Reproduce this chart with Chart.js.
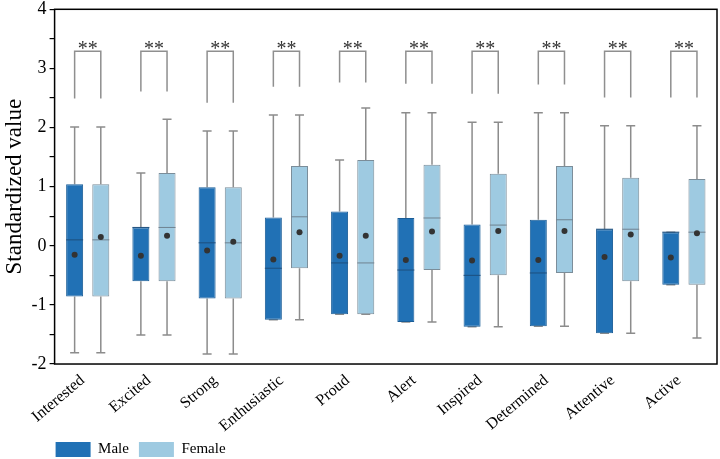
<!DOCTYPE html>
<html>
<head>
<meta charset="utf-8">
<script src="https://cdn.jsdelivr.net/npm/chart.js@4.4.1/dist/chart.umd.min.js"></script>
<style>
  html, body { margin: 0; padding: 0; background: #fff; }
  #wrap { width: 720px; height: 459px; }
</style>
</head>
<body>
<div id="wrap"><canvas id="boxChart"></canvas></div>
<script>
const categories = ["Interested", "Excited", "Strong", "Enthusiastic", "Proud", "Alert", "Inspired", "Determined", "Attentive", "Active"];

// male box stats
const maleMin    = [-1.81, -1.51, -1.83, -1.25, -1.16, -1.29, -1.37, -1.36, -1.48, -0.66];
const maleQ1     = [-0.86, -0.60, -0.89, -1.25, -1.16, -1.29, -1.37, -1.36, -1.48, -0.66];
const maleMedian = [0.10, 0.31, 0.05, -0.38, -0.29, -0.41, -0.50, -0.46, 0.28, 0.23];
const maleQ3     = [1.04, 0.31, 0.99, 0.48, 0.58, 0.47, 0.36, 0.44, 0.28, 0.23];
const maleMax    = [2.01, 1.23, 1.94, 2.21, 1.45, 2.25, 2.09, 2.25, 2.03, 0.23];
const maleMean   = [-0.15, -0.17, -0.08, -0.23, -0.17, -0.24, -0.25, -0.24, -0.19, -0.20];

// female box stats
const femaleMin    = [-1.81, -1.51, -1.83, -1.25, -1.16, -1.29, -1.37, -1.36, -1.48, -1.56];
const femaleQ1     = [-0.86, -0.60, -0.89, -0.38, -1.16, -0.41, -0.50, -0.46, -0.60, -0.66];
const femaleMedian = [0.10, 0.31, 0.05, 0.49, -0.29, 0.47, 0.35, 0.44, 0.28, 0.23];
const femaleQ3     = [1.04, 1.23, 0.99, 1.35, 1.45, 1.37, 1.22, 1.35, 1.15, 1.13];
const femaleMax    = [2.01, 2.14, 1.94, 2.21, 2.33, 2.25, 2.09, 2.25, 2.03, 2.03];
const femaleMean   = [0.15, 0.17, 0.07, 0.23, 0.17, 0.24, 0.25, 0.25, 0.19, 0.21];

// significance brackets
const bracketTop  = [3.29, 3.29, 3.29, 3.29, 3.29, 3.29, 3.29, 3.29, 3.29, 3.29];
const bracketFoot = [2.49, 2.61, 2.42, 2.69, 2.76, 2.74, 2.57, 2.73, 2.51, 2.51];
const sigMarks    = ["**", "**", "**", "**", "**", "**", "**", "**", "**", "**"];

const yTicks = [-2, -1, 0, 1, 2, 3, 4];

const SERIF = "'Liberation Serif', 'Times New Roman', serif";
const WHISKER = "#8c8c8c";

const boxStats = [
  { min: maleMin, med: maleMedian, max: maleMax, mean: maleMean, q1: maleQ1, q3: maleQ3, medColor: "#1d4f7e" },
  { min: femaleMin, med: femaleMedian, max: femaleMax, mean: femaleMean, q1: femaleQ1, q3: femaleQ3, medColor: "#6f8290" }
];

const boxExtras = {
  id: "boxExtras",
  beforeDatasetsDraw(chart) {
    const ctx = chart.ctx;
    const y = chart.scales.y;
    ctx.save();
    ctx.strokeStyle = WHISKER;
    ctx.lineWidth = 1.5;
    boxStats.forEach((s, d) => {
      chart.getDatasetMeta(d).data.forEach((bar, i) => {
        const x = bar.x;
        ctx.beginPath();
        ctx.moveTo(x, y.getPixelForValue(s.q3[i]));
        ctx.lineTo(x, y.getPixelForValue(s.max[i]));
        ctx.moveTo(x - 4.5, y.getPixelForValue(s.max[i]));
        ctx.lineTo(x + 4.5, y.getPixelForValue(s.max[i]));
        ctx.moveTo(x, y.getPixelForValue(s.q1[i]));
        ctx.lineTo(x, y.getPixelForValue(s.min[i]));
        ctx.moveTo(x - 4.5, y.getPixelForValue(s.min[i]));
        ctx.lineTo(x + 4.5, y.getPixelForValue(s.min[i]));
        ctx.stroke();
      });
    });
    ctx.restore();
  },
  afterDatasetsDraw(chart) {
    const ctx = chart.ctx;
    const y = chart.scales.y;
    const area = chart.chartArea;
    ctx.save();
    // medians + means
    boxStats.forEach((s, d) => {
      chart.getDatasetMeta(d).data.forEach((bar, i) => {
        const half = bar.width / 2;
        const ym = y.getPixelForValue(s.med[i]);
        ctx.strokeStyle = s.medColor;
        ctx.lineWidth = 1;
        ctx.beginPath();
        ctx.moveTo(bar.x - half, ym);
        ctx.lineTo(bar.x + half, ym);
        ctx.stroke();
        ctx.fillStyle = "#333333";
        ctx.beginPath();
        ctx.arc(bar.x, y.getPixelForValue(s.mean[i]), 3, 0, Math.PI * 2);
        ctx.fill();
      });
    });
    // brackets
    const maleBars = chart.getDatasetMeta(0).data;
    const femaleBars = chart.getDatasetMeta(1).data;
    ctx.strokeStyle = "#8f8f8f";
    ctx.lineWidth = 1.5;
    ctx.fillStyle = "#333333";
    ctx.font = "20px " + SERIF;
    ctx.textAlign = "center";
    ctx.textBaseline = "alphabetic";
    categories.forEach((c, i) => {
      const x1 = maleBars[i].x, x2 = femaleBars[i].x;
      const yt = y.getPixelForValue(bracketTop[i]);
      const yf = y.getPixelForValue(bracketFoot[i]);
      ctx.beginPath();
      ctx.moveTo(x1, yf);
      ctx.lineTo(x1, yt);
      ctx.lineTo(x2, yt);
      ctx.lineTo(x2, yf);
      ctx.stroke();
      ctx.fillText(sigMarks[i], (x1 + x2) / 2, yt + 4);
    });
    // frame
    ctx.strokeStyle = "#000";
    ctx.lineWidth = 1.5;
    ctx.strokeRect(area.left, area.top, area.right - area.left, area.bottom - area.top);
    ctx.restore();
  },
  afterLayout(chart) {
    // line the legend up under the plot like the original
    chart.legend.left = chart.chartArea.left - 9;
    chart.legend.top -= 11;
  }
};

new Chart(document.getElementById("boxChart"), {
  type: "bar",
  data: {
    labels: categories,
    datasets: [
      {
        label: "Male",
        data: categories.map((c, i) => [maleQ1[i], maleQ3[i]]),
        backgroundColor: "#2171b5",
        borderColor: "#1a5d97",
        borderWidth: 1,
        borderSkipped: false
      },
      {
        label: "Female",
        data: categories.map((c, i) => [femaleQ1[i], femaleQ3[i]]),
        backgroundColor: "#9ecae1",
        borderColor: "#7b8d99",
        borderWidth: 1,
        borderSkipped: false
      }
    ]
  },
  options: {
    responsive: true,
    maintainAspectRatio: false,
    animation: false,
    layout: { padding: { top: 0, right: 3, left: 1, bottom: -19 } },
    datasets: {
      bar: { categoryPercentage: 0.79, barPercentage: 0.65 }
    },
    scales: {
      x: {
        grid: { display: false, drawTicks: false },
        border: { display: false },
        ticks: {
          color: "#000",
          font: { family: SERIF, size: 16 },
          minRotation: 40,
          maxRotation: 40,
          padding: 7,
          labelOffset: -5
        }
      },
      y: {
        min: -2,
        max: 4,
        grid: { drawOnChartArea: false, tickLength: 5, color: "#000", lineWidth: 1.2 },
        border: { display: false },
        ticks: {
          stepSize: 0.5,
          color: "#000",
          font: { family: SERIF, size: 18, lineHeight: 0.7 },
          padding: 3,
          callback: v => (yTicks.includes(v) ? String(v) : "")
        },
        title: {
          display: true,
          text: "Standardized value",
          color: "#000",
          font: { family: SERIF, size: 23 },
          padding: { top: 0, bottom: 0 }
        }
      }
    },
    plugins: {
      tooltip: { enabled: false },
      legend: {
        position: "bottom",
        align: "start",
        fullSize: false,
        labels: {
          color: "#000",
          font: { family: SERIF, size: 15 },
          boxWidth: 35,
          boxHeight: 15,
          padding: 10,
          generateLabels: chart =>
            Chart.defaults.plugins.legend.labels.generateLabels(chart).map(l => ({ ...l, lineWidth: 0 }))
        }
      }
    }
  },
  plugins: [boxExtras]
});
</script>
</body>
</html>
